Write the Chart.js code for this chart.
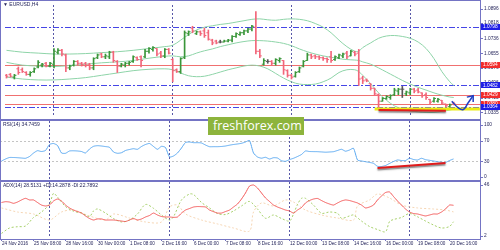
<!DOCTYPE html>
<html><head><meta charset="utf-8">
<script src="https://cdn.jsdelivr.net/npm/chart.js@4.4.1/dist/chart.umd.min.js"></script>
<style>
html,body{margin:0;padding:0;background:#fff;}
#wrap{position:relative;width:500px;height:250px;overflow:hidden;background:#fff;}
#wrap canvas{position:absolute;left:0;}
.fr{position:absolute;background:#7474c4;z-index:5;}
#wm{position:absolute;left:208px;top:117px;width:96px;height:18px;background:#8db43c;color:#fff;
font-family:"Open Sans",sans-serif;font-size:12.5px;line-height:18px;padding-left:5px;box-sizing:border-box;z-index:6;white-space:nowrap;overflow:hidden;}
</style></head>
<body>
<div id="wrap">
<canvas id="cMain" width="500" height="121" style="top:0"></canvas>
<canvas id="cRsi" width="500" height="60" style="top:121px"></canvas>
<canvas id="cAdx" width="500" height="69" style="top:181px"></canvas>
<div class="fr" style="left:0;top:0;width:481px;height:1px"></div>
<div class="fr" style="left:0;top:0;width:1px;height:240px"></div>
<div class="fr" style="left:480px;top:0;width:1px;height:240px"></div>
<div class="fr" style="left:0;top:119px;width:481px;height:2px"></div>
<div class="fr" style="left:0;top:180px;width:481px;height:2px"></div>
<div class="fr" style="left:0;top:239px;width:481px;height:1px"></div>
<div id="wm">freshforex.com</div>
</div>
<script>
// ---------------- DATA ----------------
const priceHigh = [1.0541,1.0546,1.0541,1.0581,1.0576,1.0556,1.0556,1.0576,1.0616,1.0601,
1.0606,1.0606,1.0681,1.0681,1.0676,1.0651,1.0591,1.0616,1.0616,1.0606,
1.0606,1.0601,1.0631,1.0651,1.0656,1.0651,1.0666,1.0666,1.0616,1.0601,
1.0606,1.0611,1.0641,1.0636,1.0641,1.0676,1.0686,1.0691,1.0681,1.0666,
1.0681,1.0681,1.0626,1.0571,1.0631,1.0776,1.0776,1.0801,1.0776,1.0776,
1.0791,1.0781,1.0731,1.0726,1.0726,1.0726,1.0731,1.0751,1.0766,1.0771,
1.0781,1.0791,1.0806,1.0881,1.0676,1.0626,1.0621,1.0616,1.0626,1.0631,
1.0616,1.0566,1.0541,1.0556,1.0581,1.0616,1.0656,1.0651,1.0646,1.0641,
1.0636,1.0631,1.0666,1.0641,1.0651,1.0656,1.0666,1.0671,1.0666,1.0676,
1.0531,1.0516,1.0491,1.0466,1.0436,1.0416,1.0426,1.0431,1.0466,1.0466,
1.0476,1.0451,1.0466,1.0466,1.0466,1.0441,1.0441,1.0406,1.0416,1.0411,
1.0401,1.0381,1.0381,1.0391];
const priceLow = [1.0521,1.0526,1.0516,1.0541,1.0551,1.0536,1.0531,1.0551,1.0576,1.0581,
1.0581,1.0581,1.0576,1.0651,1.0641,1.0556,1.0566,1.0586,1.0591,1.0586,
1.0581,1.0566,1.0566,1.0626,1.0631,1.0626,1.0626,1.0606,1.0551,1.0581,
1.0581,1.0591,1.0606,1.0616,1.0581,1.0631,1.0656,1.0666,1.0641,1.0631,
1.0631,1.0651,1.0501,1.0551,1.0546,1.0626,1.0751,1.0766,1.0756,1.0751,
1.0741,1.0726,1.0701,1.0706,1.0711,1.0716,1.0716,1.0716,1.0741,1.0751,
1.0756,1.0766,1.0776,1.0651,1.0631,1.0591,1.0601,1.0591,1.0591,1.0606,
1.0541,1.0526,1.0516,1.0526,1.0551,1.0581,1.0616,1.0626,1.0626,1.0621,
1.0616,1.0606,1.0606,1.0616,1.0626,1.0631,1.0626,1.0641,1.0641,1.0481,
1.0491,1.0501,1.0456,1.0426,1.0356,1.0396,1.0406,1.0406,1.0426,1.0431,
1.0416,1.0426,1.0431,1.0441,1.0441,1.0416,1.0406,1.0381,1.0391,1.0391,
1.0381,1.0366,1.0356,1.0376];
const priceOpen = [1.0536,1.0541,1.0526,1.0571,1.0566,1.0551,1.0541,1.0556,1.0581,1.0591,
1.0601,1.0586,1.0596,1.0661,1.0671,1.0646,1.0576,1.0591,1.0611,1.0601,
1.0601,1.0596,1.0576,1.0631,1.0651,1.0636,1.0636,1.0661,1.0611,1.0586,
1.0591,1.0601,1.0611,1.0631,1.0636,1.0636,1.0666,1.0676,1.0681,1.0656,
1.0641,1.0676,1.0621,1.0566,1.0556,1.0631,1.0761,1.0791,1.0761,1.0771,
1.0776,1.0766,1.0726,1.0721,1.0716,1.0716,1.0721,1.0726,1.0746,1.0756,
1.0766,1.0776,1.0786,1.0796,1.0666,1.0596,1.0611,1.0611,1.0601,1.0616,
1.0616,1.0561,1.0536,1.0531,1.0556,1.0586,1.0616,1.0646,1.0641,1.0636,
1.0631,1.0626,1.0636,1.0621,1.0631,1.0641,1.0656,1.0641,1.0661,1.0656,
1.0521,1.0511,1.0491,1.0466,1.0431,1.0396,1.0411,1.0416,1.0431,1.0451,
1.0461,1.0436,1.0441,1.0461,1.0456,1.0441,1.0431,1.0406,1.0396,1.0396,
1.0401,1.0381,1.0366,1.0386];
const priceClose = [1.0531,1.0531,1.0536,1.0551,1.0556,1.0541,1.0551,1.0571,1.0606,1.0596,
1.0586,1.0601,1.0666,1.0671,1.0651,1.0576,1.0586,1.0611,1.0601,1.0596,
1.0591,1.0576,1.0626,1.0646,1.0636,1.0641,1.0661,1.0616,1.0586,1.0596,
1.0601,1.0606,1.0636,1.0621,1.0616,1.0666,1.0681,1.0686,1.0651,1.0641,
1.0676,1.0656,1.0561,1.0556,1.0626,1.0766,1.0771,1.0776,1.0771,1.0761,
1.0751,1.0731,1.0711,1.0711,1.0716,1.0721,1.0726,1.0746,1.0761,1.0766,
1.0776,1.0786,1.0801,1.0666,1.0641,1.0616,1.0611,1.0601,1.0621,1.0626,
1.0566,1.0536,1.0526,1.0551,1.0576,1.0611,1.0646,1.0636,1.0636,1.0631,
1.0626,1.0621,1.0616,1.0636,1.0646,1.0651,1.0636,1.0666,1.0651,1.0516,
1.0506,1.0506,1.0466,1.0436,1.0396,1.0411,1.0421,1.0426,1.0456,1.0461,
1.0461,1.0446,1.0461,1.0451,1.0446,1.0426,1.0416,1.0391,1.0411,1.0406,
1.0386,1.0371,1.0376,1.0381];

// Bollinger bands (20) at these bar numbers
const bandIdx = [0,4,8,12,16,20,24,28,32,36,40,42,44,46,48,50,52,54,56,58,60,62,64,66,68,70,72,74,76,78,80,82,84,86,88,89,90,92,94,96,98,100,102,104,106,108,110,112,113];
const bandUpper = [1.0671,1.0661,1.0656,1.0651,1.0651,1.06535,1.06585,1.06635,1.0671,1.0681,1.0691,1.06985,1.0726,1.0756,1.0781,1.0796,1.08035,1.0811,1.0816,1.08235,1.0831,1.08385,1.0841,1.0836,1.08335,1.08385,1.0841,1.08385,1.0831,1.0816,1.0796,1.0766,1.0726,1.0691,1.0666,1.0666,1.0686,1.0711,1.0736,1.07485,1.0751,1.0746,1.0736,1.0716,1.0681,1.0626,1.0556,1.0501,1.0481];
const bandMiddle = [1.0606,1.0591,1.0586,1.05835,1.05885,1.0596,1.06035,1.06085,1.0616,1.06285,1.06385,1.0641,1.0636,1.0641,1.0656,1.06685,1.06785,1.0691,1.0701,1.0711,1.07185,1.07235,1.07235,1.0721,1.0716,1.07085,1.0696,1.06785,1.06635,1.0651,1.0641,1.06335,1.0626,1.0621,1.06185,1.0616,1.06085,1.0596,1.0576,1.05535,1.0531,1.05085,1.04885,1.0471,1.0456,1.0441,1.04285,1.04185,1.0416];
const bandLower = [1.0526,1.0516,1.0511,1.0511,1.0516,1.05235,1.0536,1.05485,1.0561,1.05685,1.0571,1.0566,1.05485,1.05335,1.05285,1.0531,1.0541,1.05535,1.0566,1.0576,1.0586,1.0591,1.0586,1.0571,1.0546,1.0521,1.0501,1.04885,1.0486,1.04885,1.0501,1.0521,1.0551,1.0566,1.0566,1.0556,1.0536,1.0491,1.0441,1.0401,1.0371,1.03535,1.03435,1.03385,1.0336,1.0336,1.0341,1.03485,1.03535];

const rsiValues = [30.8,34.6,37.5,37.5,37.1,36.5,36.0,39.4,46.0,50.6,
49.0,51.0,62.5,64.4,60.6,46.2,45.6,50.0,50.4,50.0,
49.0,46.2,53.8,59.0,60.2,59.6,58.5,57.1,48.1,45.6,
46.7,51.0,52.9,54.4,53.3,58.7,62.5,64.4,58.7,53.3,
59.0,56.7,38.5,40.4,46.2,55.8,66.3,67.3,66.0,66.0,
65.4,61.5,58.3,58.3,58.3,58.7,59.6,61.2,62.5,63.5,
64.8,67.3,70.2,46.2,38.5,36.2,37.9,34.6,37.1,36.5,
31.3,30.2,33.5,36.0,39.4,43.3,50.0,49.0,48.8,48.7,
48.2,47.7,48.1,48.7,51.0,53.3,49.6,51.9,55.2,32.7,
30.8,29.4,28.0,26.3,20.6,20.2,22.1,26.0,29.8,32.7,
31.7,31.7,36.0,33.7,32.7,36.0,33.3,32.1,30.8,29.4,
28.3,27.9,31.7,34.7];

const adxValues = [30.9,31.6,31.3,30.2,31.3,33.1,34.5,33.1,33.1,30.9,
28.7,27.9,28.7,32.2,33.9,32.2,28.7,26.2,24.4,23.1,
21.8,19.3,17.1,15.8,16.7,16.7,15.8,15.8,15.8,15.4,
14.9,14.5,15.8,17.1,15.8,16.7,18.4,19.7,21.8,20.1,
18.8,18.4,18.4,18.1,18.4,21.8,24.4,25.7,27.0,27.4,
27.3,27.0,24.4,23.0,21.8,21.8,23.1,24.4,27.0,29.6,
33.9,39.1,45.1,46.0,43.4,39.1,34.8,31.8,28.7,27.0,
25.7,24.4,23.6,21.8,24.4,26.6,30.5,32.6,33.9,34.4,
32.6,30.9,29.6,28.7,30.5,32.2,33.1,32.6,31.6,30.5,
28.7,26.2,27.0,28.7,33.1,36.5,39.5,40.0,36.1,32.2,
28.7,25.3,22.7,21.4,21.0,20.1,19.3,20.1,21.0,21.0,
22.7,25.3,28.7,28.5];
const plusDiIdx = [0,2,4,6,8,10,12,13,14,16,18,20,22,23,24,26,28,30,32,34,36,38,40,42,43,45,47,48,50,52,54,56,58,60,62,64,66,68,70,72,73,74,75,76,78,80,82,84,85,87,88,90,92,94,96,97,98,100,102,104,106,108,110,112,113];
const plusDiValues = [4.2,8.9,10.0,10.6,18.0,22.7,29.6,38.8,35.6,27.4,23.4,21.8,18.8,23.6,25.3,21.8,17.1,14.1,15.8,21.0,29.2,25.9,20.1,15.8,18.6,33.1,38.2,37.8,30.9,26.2,21.4,20.5,23.6,27.9,31.8,25.3,17.3,20.1,17.1,14.9,21.0,29.2,34.5,34.5,28.7,21.6,22.7,21.6,17.3,19.3,20.1,14.9,10.2,7.6,5.7,14.5,16.2,18.0,21.4,18.6,14.9,11.5,8.9,10.2,14.3];
const minusDiIdx = [0,4,8,12,15,18,22,26,28,32,36,40,42,44,46,50,54,58,62,63,65,68,71,73,76,80,84,88,89,92,94,97,100,104,108,111,113];
const minusDiValues = [26.2,22.7,21.0,15.8,22.7,24.4,19.3,15.8,21.0,17.5,14.1,14.1,27.0,28.7,21.0,15.8,12.4,8.9,6.3,22.7,30.5,27.9,33.1,31.3,24.4,20.1,17.5,15.8,27.9,33.1,38.2,34.8,28.7,26.2,25.3,24.4,22.8];

// axes / labels
const priceTicks = [1.0896,1.0818,1.0736,1.0655,1.0576,1.0496,1.0415,1.0335];
const rsiTicks = [100,70,30,0];
const rsiLevels = [70,30];
const adxTicks = [46,2];
const xLabelIdx = [0,8,16,24,32,40,48,56,64,72,80,88,96,104,112];
const xLabels = ["24 Nov 2016","25 Nov 08:00","28 Nov 16:00","30 Nov 00:00","1 Dec 08:00","2 Dec 16:00","6 Dec 00:00","7 Dec 08:00","8 Dec 16:00","12 Dec 00:00","13 Dec 08:00","14 Dec 16:00","16 Dec 00:00","19 Dec 08:00","20 Dec 16:00"];
const weekStartIdx = [12,42,72,102];
const blueLevels = [1.0798,1.0482,1.0364];
const redLevels = [1.0594,1.0429,1.0380];

// drawn analysis objects
const supportX = [93,119.6], supportY = [1.03545,1.03545];
const lowsLineX = [94,111], lowsLineY = [1.0349,1.0344];
const arrowX = [112.5,114.1,115.4,116.6,117.9], arrowY = [1.0396,1.0361,1.0351,1.0386,1.0426];
const arrowHeadX = [116.3,117.9,117.9], arrowHeadY = [1.0418,1.0426,1.0392];
const rsiLineX = [94,111], rsiLineY = [17.3,26.9];

// ---------------- RENDERING ----------------
const FRAME = '#7474c4', TXT = '#24245a';
const FONT = '"Liberation Sans", Arial, sans-serif';
const X_MIN = -0.375, X_MAX = 119.625;
const pts = (xs, ys) => xs.map((x, k) => ({x, y: ys[k]}));
const idx = priceClose.map((_, i) => i);
const UP = '#3a963a', DOWN = '#f2667a', FLAT = '#555555';
const barColor = idx.map(i => priceClose[i] > priceOpen[i] ? UP : (priceClose[i] < priceOpen[i] ? DOWN : FLAT));

const guides = {
  id: 'guides',
  beforeDatasetsDraw(chart, args, o) {
    const {ctx, chartArea: a, scales: {x, y}} = chart;
    ctx.save();
    ctx.lineWidth = 1;
    (o.hLevels || []).forEach(g => {
      ctx.strokeStyle = g.color; ctx.setLineDash(g.dash || []);
      g.values.forEach(v => {
        const py = Math.round(y.getPixelForValue(v)) + 0.5;
        ctx.beginPath(); ctx.moveTo(a.left, py); ctx.lineTo(a.right, py); ctx.stroke();
      });
    });
    ctx.strokeStyle = '#5858a8'; ctx.setLineDash([2, 2]);
    weekStartIdx.forEach(i => {
      const px = Math.floor(x.getPixelForValue(i)) + 0.5;
      ctx.beginPath(); ctx.moveTo(px, a.top); ctx.lineTo(px, a.bottom); ctx.stroke();
    });
    ctx.restore();
  }
};
const shadow = {
  id: 'shadow',
  beforeDatasetDraw(chart, args) {
    const ds = chart.data.datasets[args.index];
    if (ds.shadowColor) { const c = chart.ctx; c.save(); c.shadowColor = ds.shadowColor; c.shadowOffsetY = 1.5; c.shadowBlur = 1.5; }
  },
  afterDatasetDraw(chart, args) {
    const ds = chart.data.datasets[args.index];
    if (ds.shadowColor) chart.ctx.restore();
  }
};
const axisText = {
  id: 'axisText',
  afterDraw(chart, args, o) {
    const {ctx, chartArea: a, scales: {x, y}} = chart;
    ctx.save();
    ctx.font = '4.8px ' + FONT;
    ctx.textBaseline = 'middle'; ctx.textAlign = 'left';
    (o.ticks || []).forEach(v => {
      const py = y.getPixelForValue(v);
      ctx.fillStyle = FRAME; ctx.fillRect(a.right + 1, Math.round(py), 2, 1);
      ctx.fillStyle = TXT; ctx.fillText(o.fmt(v), a.right + 4, py);
    });
    (o.boxes || []).forEach(b => {
      b.values.forEach(v => {
        const py = y.getPixelForValue(v);
        ctx.fillStyle = b.color; ctx.fillRect(a.right + 1, Math.round(py) - 3, 19, 6);
        ctx.fillStyle = '#fff'; ctx.fillText(v.toFixed(4), a.right + 3, py);
      });
    });
    if (o.title) { ctx.font = '5px ' + FONT; ctx.fillStyle = TXT; ctx.fillText(o.title, 3, o.titleY); }
    if (o.xLabels) {
      ctx.font = '4.6px ' + FONT;
      xLabelIdx.forEach((i, k) => {
        const px = Math.floor(x.getPixelForValue(i));
        ctx.fillStyle = FRAME; ctx.fillRect(px, a.bottom + 1, 1, 2);
        ctx.fillStyle = TXT; ctx.fillText(xLabels[k], px + 1, a.bottom + 6);
      });
    }
    ctx.restore();
  }
};
const baseX = {type: 'linear', min: X_MIN, max: X_MAX, display: false, offset: false};
const common = (padding, ymin, ymax, pluginOpts) => ({
  responsive: false, animation: false, events: [],
  layout: {padding},
  scales: {x: baseX, y: {type: 'linear', min: ymin, max: ymax, display: false}},
  plugins: Object.assign({legend: {display: false}, tooltip: {enabled: false}}, pluginOpts)
});
const lineDs = (data, color, width, extra) => Object.assign({type: 'line', data, borderColor: color, borderWidth: width, pointRadius: 0, fill: false, tension: 0.35}, extra || {});

// main price chart
new Chart(document.getElementById('cMain'), {
  type: 'bar',
  data: {datasets: [
    lineDs(pts(bandIdx, bandUpper), '#8ed4a8', 1, {order: 6}),
    lineDs(pts(bandIdx, bandMiddle), '#8ed4a8', 1, {order: 6}),
    lineDs(pts(bandIdx, bandLower), '#8ed4a8', 1, {order: 6}),
    {type: 'bar', data: idx.map(i => ({x: i, y: [priceLow[i], priceHigh[i]]})), backgroundColor: barColor, borderWidth: 0, barThickness: 1, order: 3},
    {type: 'line', showLine: false, data: idx.map(i => ({x: i - 0.25, y: priceOpen[i]})), pointStyle: 'line', pointRadius: 1, pointBorderWidth: 1, pointBorderColor: barColor, order: 2},
    {type: 'line', showLine: false, data: idx.map(i => ({x: i + 0.25, y: priceClose[i]})), pointStyle: 'line', pointRadius: 1, pointBorderWidth: 1, pointBorderColor: barColor, order: 2},
    lineDs(pts(supportX, supportY), '#ecec14', 3, {tension: 0, order: 1}),
    lineDs(pts(lowsLineX, lowsLineY), '#e41c1c', 2, {tension: 0, order: 0, shadowColor: 'rgba(40,40,40,0.6)'}),
    lineDs(pts(arrowX, arrowY), '#1f3fc4', 1.5, {tension: 0.45, order: 0}),
    lineDs(pts(arrowHeadX, arrowHeadY), '#1f3fc4', 1.5, {tension: 0, order: 0})
  ]},
  options: common({left: 0, right: 20, top: 0, bottom: 1}, 1.0316, 1.0916, {
    guides: {hLevels: [{values: redLevels, color: '#f07070'}, {values: blueLevels, color: '#4646e6', dash: [6, 2, 2, 2]}]},
    axisText: {ticks: priceTicks, fmt: v => v.toFixed(4),
      boxes: [{values: redLevels, color: '#f22c2c'}, {values: blueLevels, color: '#1e1ee6'}],
      title: '\u25BC EURUSD,H4', titleY: 5}
  })
  , plugins: [guides, shadow, axisText]
});

// RSI
new Chart(document.getElementById('cRsi'), {
  type: 'line',
  data: {datasets: [
    lineDs(pts(idx, rsiValues), '#5aa8f0', 1, {tension: 0.2, order: 2}),
    lineDs(pts(rsiLineX, rsiLineY), '#e01c1c', 2, {tension: 0, order: 0, shadowColor: 'rgba(40,40,40,0.6)'})
  ]},
  options: common({left: 0, right: 20, top: 0, bottom: 1}, -5.77, 107.69, {
    guides: {hLevels: [{values: rsiLevels, color: '#c4c4c4', dash: [2, 2]}]},
    axisText: {ticks: rsiTicks, fmt: v => String(v), title: 'RSI(14) 34.7459', titleY: 4}
  }),
  plugins: [guides, shadow, axisText]
});

// ADX
new Chart(document.getElementById('cAdx'), {
  type: 'line',
  data: {datasets: [
    lineDs(pts(minusDiIdx, minusDiValues), '#f6d6b4', 1, {borderDash: [2, 2], tension: 0.3, order: 3}),
    lineDs(pts(plusDiIdx, plusDiValues), '#a6d06a', 1, {borderDash: [2, 2], tension: 0.3, order: 2}),
    lineDs(pts(idx, adxValues), '#f25858', 1, {tension: 0.2, order: 1})
  ]},
  options: common({left: 0, right: 20, top: 1, bottom: 12}, 0.2745, 48.588, {
    guides: {hLevels: []},
    axisText: {ticks: adxTicks, fmt: v => String(v), title: 'ADX(14) 28.5131 +DI:14.2878 -DI:22.7892', titleY: 5, xLabels: true}
  }),
  plugins: [guides, shadow, axisText]
});
</script>
</body></html>
